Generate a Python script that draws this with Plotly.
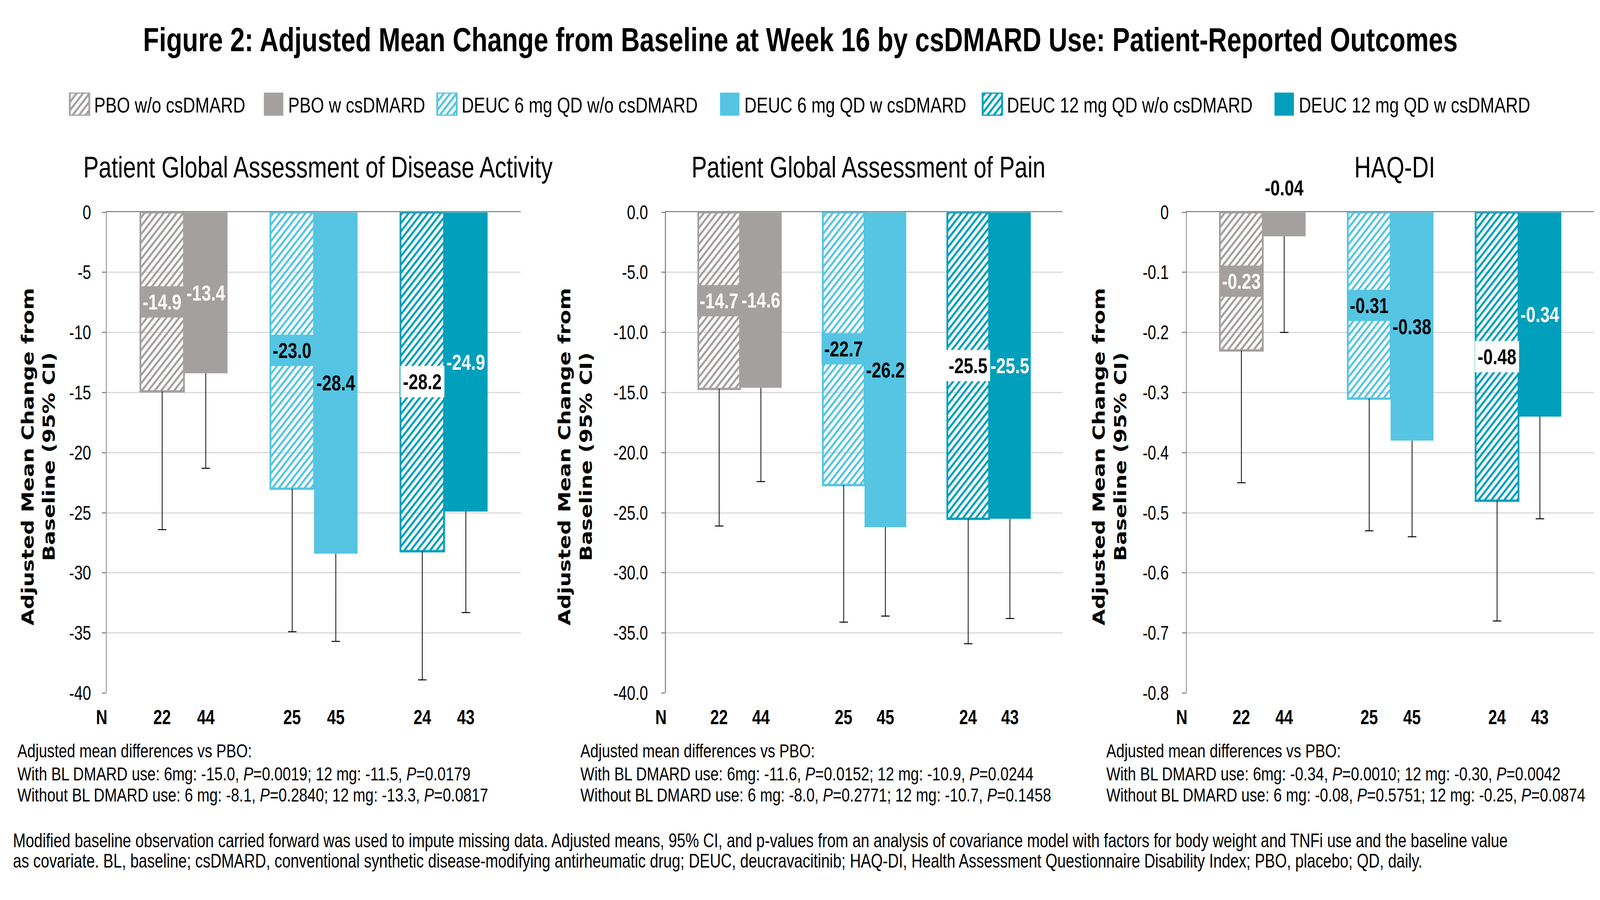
import plotly.graph_objects as go

# ------------------------------------------------------------------ data
groups = ["PBO", "DEUC 6 mg QD", "DEUC 12 mg QD"]
legend_names = ["PBO w/o csDMARD", "PBO w csDMARD",
                "DEUC 6 mg QD w/o csDMARD", "DEUC 6 mg QD w csDMARD",
                "DEUC 12 mg QD w/o csDMARD", "DEUC 12 mg QD w csDMARD"]
n_wo = [22, 25, 24]
n_w = [44, 45, 43]

panel_titles = ["Patient Global Assessment of Disease Activity",
                "Patient Global Assessment of Pain", "HAQ-DI"]

# Patient Global Assessment of Disease Activity
pga_wo = [-14.9, -23.0, -28.2]
pga_w = [-13.4, -28.4, -24.9]
pga_wo_lo = [-26.4, -34.9, -38.9]
pga_w_lo = [-21.3, -35.7, -33.3]

# Patient Global Assessment of Pain
pain_wo = [-14.7, -22.7, -25.5]
pain_w = [-14.6, -26.2, -25.5]
pain_wo_lo = [-26.1, -34.1, -35.9]
pain_w_lo = [-22.4, -33.6, -33.8]

# HAQ-DI
haq_wo = [-0.23, -0.31, -0.48]
haq_w = [-0.04, -0.38, -0.34]
haq_wo_lo = [-0.45, -0.53, -0.68]
haq_w_lo = [-0.20, -0.54, -0.51]

pga_tickvals = [0, -5, -10, -15, -20, -25, -30, -35, -40]
pga_ticktext = ["0", "-5", "-10", "-15", "-20", "-25", "-30", "-35", "-40"]
pain_tickvals = [0, -5, -10, -15, -20, -25, -30, -35, -40]
pain_ticktext = ["0.0", "-5.0", "-10.0", "-15.0", "-20.0", "-25.0", "-30.0", "-35.0", "-40.0"]
haq_tickvals = [0, -0.1, -0.2, -0.3, -0.4, -0.5, -0.6, -0.7, -0.8]
haq_ticktext = ["0", "-0.1", "-0.2", "-0.3", "-0.4", "-0.5", "-0.6", "-0.7", "-0.8"]

pga_notes = ["Adjusted mean differences vs PBO:",
             "With BL DMARD use: 6mg: -15.0, <i>P</i>=0.0019; 12 mg: -11.5, <i>P</i>=0.0179",
             "Without BL DMARD use: 6 mg: -8.1, <i>P</i>=0.2840; 12 mg: -13.3, <i>P</i>=0.0817"]
pain_notes = ["Adjusted mean differences vs PBO:",
              "With BL DMARD use: 6mg: -11.6, <i>P</i>=0.0152; 12 mg: -10.9, <i>P</i>=0.0244",
              "Without BL DMARD use: 6 mg: -8.0, <i>P</i>=0.2771; 12 mg: -10.7, <i>P</i>=0.1458"]
haq_notes = ["Adjusted mean differences vs PBO:",
             "With BL DMARD use: 6mg: -0.34, <i>P</i>=0.0010; 12 mg: -0.30, <i>P</i>=0.0042",
             "Without BL DMARD use: 6 mg: -0.08, <i>P</i>=0.5751; 12 mg: -0.25, <i>P</i>=0.0874"]

main_title = "Figure 2: Adjusted Mean Change from Baseline at Week 16 by csDMARD Use: Patient-Reported Outcomes"
y_title = "Adjusted Mean Change from<br>Baseline (95% CI)"
bottom_notes = [
    "Modified baseline observation carried forward was used to impute missing data. Adjusted means, 95% CI, and p-values from an analysis of covariance model with factors for body weight and TNFi use and the baseline value",
    "as covariate. BL, baseline; csDMARD, conventional synthetic disease-modifying antirheumatic drug; DEUC, deucravacitinib; HAQ-DI, Health Assessment Questionnaire Disability Index; PBO, placebo; QD, daily.",
]

# ------------------------------------------------------------------ styles
W, H = 5269, 2303
GRAY, LBLUE, TEAL = "#A5A0A0", "#55C5E3", "#009FBC"
group_colors = [GRAY, LBLUE, TEAL]
wo_label_font = ["white", "black", "black"]
wo_label_bg = [GRAY, LBLUE, "white"]
w_label_font = ["white", "black", "white"]

AXIS_COL = "#8C8C8C"
GRID_COL = "#D9D9D9"
BASE_FONT = "Liberation Sans, Arial, sans-serif"
NARROW_FONT = "Liberation Sans Narrow, Arial Narrow, Liberation Sans, sans-serif"
YT_FONT = "DejaVu Sans, Verdana, sans-serif"

BARGAP = 0.33
HALF = (1 - BARGAP) / 4
XRANGE = [-0.595, 2.59]
Y_TOP_PX, Y_BOT_PX = 529, 1790
HATCH_SIZE, HATCH_SOLIDITY = 15, 0.42


def fx(px):
    return px / W


def fy(px):
    return 1 - px / H


def hatch(colors, shapes="/"):
    return dict(shape=shapes, fgcolor="white", bgcolor=colors, size=HATCH_SIZE,
                solidity=HATCH_SOLIDITY, fillmode="replace")


panels = [
    dict(title=panel_titles[0], wo=pga_wo, w=pga_w, wo_lo=pga_wo_lo, w_lo=pga_w_lo,
         tv=pga_tickvals, tt=pga_ticktext, yr=[-40, 0], fmt="{:.1f}", notes=pga_notes,
         dom=(351, 1715), yt_x=127, note_x=55, standoff=26),
    dict(title=panel_titles[1], wo=pain_wo, w=pain_w, wo_lo=pain_wo_lo, w_lo=pain_w_lo,
         tv=pain_tickvals, tt=pain_ticktext, yr=[-40, 0], fmt="{:.1f}", notes=pain_notes,
         dom=(2193, 3499), yt_x=1895, note_x=1909, standoff=34),
    dict(title=panel_titles[2], wo=haq_wo, w=haq_w, wo_lo=haq_wo_lo, w_lo=haq_w_lo,
         tv=haq_tickvals, tt=haq_ticktext, yr=[-0.8, 0], fmt="{:.2f}", notes=haq_notes,
         dom=(3908, 5249), yt_x=3655, note_x=3641, standoff=34),
]

fig = go.Figure()
annotations = []
layout_axes = {}


def note(text, x, y, size, family=BASE_FONT, xanchor="center", yanchor="middle", **kw):
    font = dict(family=family, size=size, color=kw.pop("color", "black"))
    if kw.pop("bold", False):
        font["weight"] = "bold"
    d = dict(text=text, x=x, y=y, xanchor=xanchor, yanchor=yanchor, showarrow=False,
             font=font)
    d.update(kw)
    d.setdefault("xref", "paper")
    d.setdefault("yref", "paper")
    annotations.append(d)


for k, p in enumerate(panels):
    sfx = "" if k == 0 else str(k + 1)
    xa, ya = "x" + sfx, "y" + sfx
    err_wo = [v - l for v, l in zip(p["wo"], p["wo_lo"])]
    err_w = [v - l for v, l in zip(p["w"], p["w_lo"])]

    # hatched bars (without csDMARD)
    fig.add_trace(go.Bar(
        x=groups, y=p["wo"], xaxis=xa, yaxis=ya, offsetgroup="wo",
        marker=dict(color=group_colors, pattern=hatch(group_colors),
                    line=dict(color=group_colors, width=6)),
        error_y=dict(type="data", symmetric=False, array=[0, 0, 0], arrayminus=err_wo,
                     width=0, thickness=2.5, color="black"),
        showlegend=False, hoverinfo="skip"))
    # solid bars (with csDMARD)
    fig.add_trace(go.Bar(
        x=groups, y=p["w"], xaxis=xa, yaxis=ya, offsetgroup="w",
        marker=dict(color=group_colors, line=dict(width=0)),
        error_y=dict(type="data", symmetric=False, array=[0, 0, 0], arrayminus=err_w,
                     width=0, thickness=2.5, color="black"),
        showlegend=False, hoverinfo="skip"))
    # caps at the lower CI limits
    for lo, og in ((p["wo_lo"], "wo"), (p["w_lo"], "w")):
        fig.add_trace(go.Bar(
            x=groups, y=lo, xaxis=xa, yaxis=ya, offsetgroup=og,
            marker=dict(color="rgba(0,0,0,0)", line=dict(width=0)),
            error_y=dict(type="data", symmetric=False, array=[0, 0, 0], arrayminus=[0, 0, 0],
                         width=14, thickness=2.5, color="black"),
            showlegend=False, hoverinfo="skip"))

    x0, x1 = p["dom"]
    layout_axes["xaxis" + sfx] = dict(
        domain=[fx(x0), fx(x1)], anchor=ya, range=XRANGE, side="top",
        showticklabels=False, showline=True, linecolor=AXIS_COL, linewidth=3,
        ticks="inside", ticklen=22, tickwidth=3, tickcolor=AXIS_COL,
        tickmode="array", tickvals=[XRANGE[1] - 0.001], showgrid=False, zeroline=False,
        fixedrange=True)
    layout_axes["yaxis" + sfx] = dict(
        domain=[fy(Y_BOT_PX), fy(Y_TOP_PX)], anchor=xa, range=p["yr"],
        tickmode="array", tickvals=p["tv"], ticktext=p["tt"],
        showline=True, linecolor=AXIS_COL, linewidth=3,
        ticks="outside", ticklen=12, tickwidth=3, tickcolor=AXIS_COL,
        ticklabelstandoff=p["standoff"],
        showgrid=True, gridcolor=GRID_COL, gridwidth=3, zeroline=False,
        tickfont=dict(family=NARROW_FONT, size=50, color="black"), fixedrange=True)

    fmt = p["fmt"]
    small = 0.1 * abs(p["yr"][0])
    for i in range(3):
        note(fmt.format(p["wo"][i]), i - HALF, p["wo"][i] / 2, 56, xref=xa, yref=ya,
             color=wo_label_font[i], bold=True, bgcolor=wo_label_bg[i], borderpad=8)
        if abs(p["w"][i]) < small:
            note(fmt.format(p["w"][i]), i + HALF, 0, 56, xref=xa, yref=ya,
                 color="black", bold=True, yshift=63)
        else:
            note(fmt.format(p["w"][i]), i + HALF, p["w"][i] / 2, 56, xref=xa, yref=ya,
                 color=w_label_font[i], bold=True)
        for xoff, nval in ((-HALF, n_wo[i]), (HALF, n_w[i])):
            note(str(nval), i + xoff, fy(1853), 52, family=NARROW_FONT, xref=xa,
                 bold=True)
    note("N", fx(x0), fy(1853), 52, family=NARROW_FONT, xanchor="right", xshift=5,
         bold=True)
    note(p["title"], fx((x0 + x1) / 2 + 14), fy(410), 76)
    note(y_title, fx(p["yt_x"]), fy(1170), 54, family=YT_FONT, bold=True, textangle=-90)
    for line, ypx in zip(p["notes"], (1941, 2002, 2057)):
        note(line, fx(p["note_x"]), fy(ypx), 49, xanchor="left")

# ------------------------------------------------------------------ legend (swatches drawn as bars)
LEG_X = [262, 901, 1472, 2403, 3268, 4229]
LEG_W = 64
leg_colors = [GRAY, GRAY, LBLUE, LBLUE, TEAL, TEAL]
leg_shapes = ["/", "", "/", "", "/", ""]
fig.add_trace(go.Bar(
    x=LEG_X, y=[1] * 6, width=[LEG_W] * 6, xaxis="x4", yaxis="y4",
    marker=dict(color=leg_colors, pattern=hatch(leg_colors, leg_shapes),
                line=dict(color=leg_colors, width=[6, 0, 6, 0, 6, 0])),
    showlegend=False, hoverinfo="skip"))
layout_axes["xaxis4"] = dict(domain=[0, 1], anchor="y4", range=[0, W], visible=False,
                             fixedrange=True)
layout_axes["yaxis4"] = dict(domain=[fy(276), fy(215)], anchor="x4", range=[0, 1],
                             visible=False, fixedrange=True)
for name, cx in zip(legend_names, LEG_X):
    note(name, fx(cx + LEG_W / 2 + 14), fy(248), 56, xanchor="left")

# ------------------------------------------------------------------ titles / footnotes
note(main_title, fx(2636), fy(76), 86, bold=True)
for line, ypx in zip(bottom_notes, (2177, 2230)):
    note(line, fx(40), fy(ypx), 50, xanchor="left")

fig.update_layout(
    width=W, height=H, margin=dict(l=0, r=0, t=0, b=0, pad=0),
    paper_bgcolor="white", plot_bgcolor="white",
    barmode="group", bargap=BARGAP, bargroupgap=0,
    annotations=annotations, showlegend=False, **layout_axes)

# fit the 5269x2303 figure to the actual browser viewport (no-op when it already fits)
post = """
(function(){
  var iw = window.innerWidth, ih = window.innerHeight;
  document.documentElement.style.margin = '0';
  document.documentElement.style.overflow = 'hidden';
  document.body.style.margin = '0';
  document.body.style.overflow = 'hidden';
  var sx = iw / 5269, sy = ih / 2303;
  if (Math.abs(sx - 1) > 0.002 || Math.abs(sy - 1) > 0.002) {
    var gd = document.querySelector('.plotly-graph-div');
    gd.style.transformOrigin = '0 0';
    gd.style.transform = 'scale(' + sx + ',' + sy + ')';
  }
})();
"""
fig.write_html("out.html", config={"displayModeBar": False}, post_script=post)
